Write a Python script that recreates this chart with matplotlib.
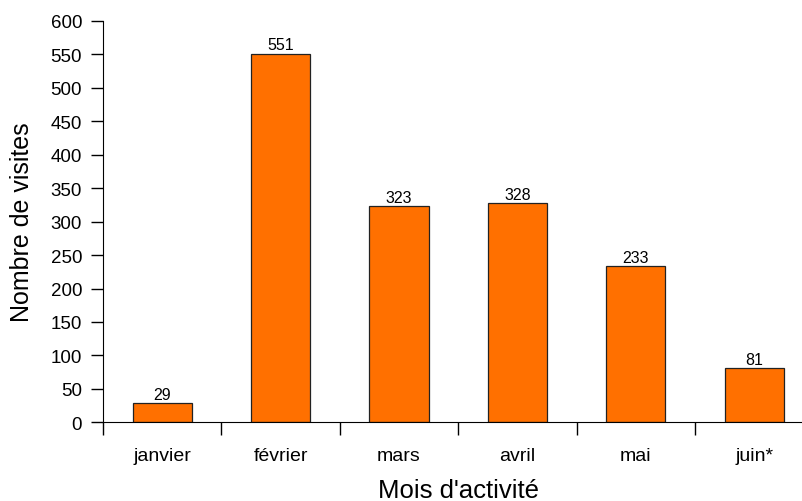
import matplotlib
matplotlib.use("Agg")
import matplotlib.pyplot as plt

plt.rcParams['font.family'] = ['Liberation Sans', 'DejaVu Sans']

mois = ["janvier", "février", "mars", "avril", "mai", "juin*"]
visites = [29, 551, 323, 328, 233, 81]
yticks = list(range(0, 601, 50))

fig = plt.figure(figsize=(8.02, 5.02), dpi=100)
# axes run off the right edge like the original
ax = fig.add_axes([103/802, 78.7/502, 710.5/802, 401.3/502])

x = range(len(mois))
bars = ax.bar(x, visites, width=0.5, color="#FF7000", edgecolor="#222222", linewidth=0.9, zorder=2)
ax.bar_label(bars, labels=[str(v) for v in visites], padding=1, fontsize=11.5)

ax.set_xlim(-0.5, len(mois) - 0.5)
ax.set_ylim(0, 600)
ax.set_yticks(yticks)
ax.tick_params(axis='y', labelsize=13.5, length=9, width=1, direction='out', pad=6)

# category ticks sit between the bars
ax.set_xticks([i + 0.5 for i in range(len(mois) - 1)] + [-0.5])
ax.set_xticklabels([])
ax.set_xticks(list(x), minor=True)
ax.set_xticklabels(mois, minor=True, fontsize=14)
ax.tick_params(axis='x', which='major', length=9, width=1)
ax.tick_params(axis='x', which='minor', length=0, pad=18)

ax.spines['top'].set_visible(False)
ax.spines['right'].set_visible(False)

ax.set_ylabel("Nombre de visites", fontsize=18, labelpad=12)
ax.set_xlabel("Mois d'activité", fontsize=18.5, labelpad=10)

fig.savefig("out.png", dpi=100)
